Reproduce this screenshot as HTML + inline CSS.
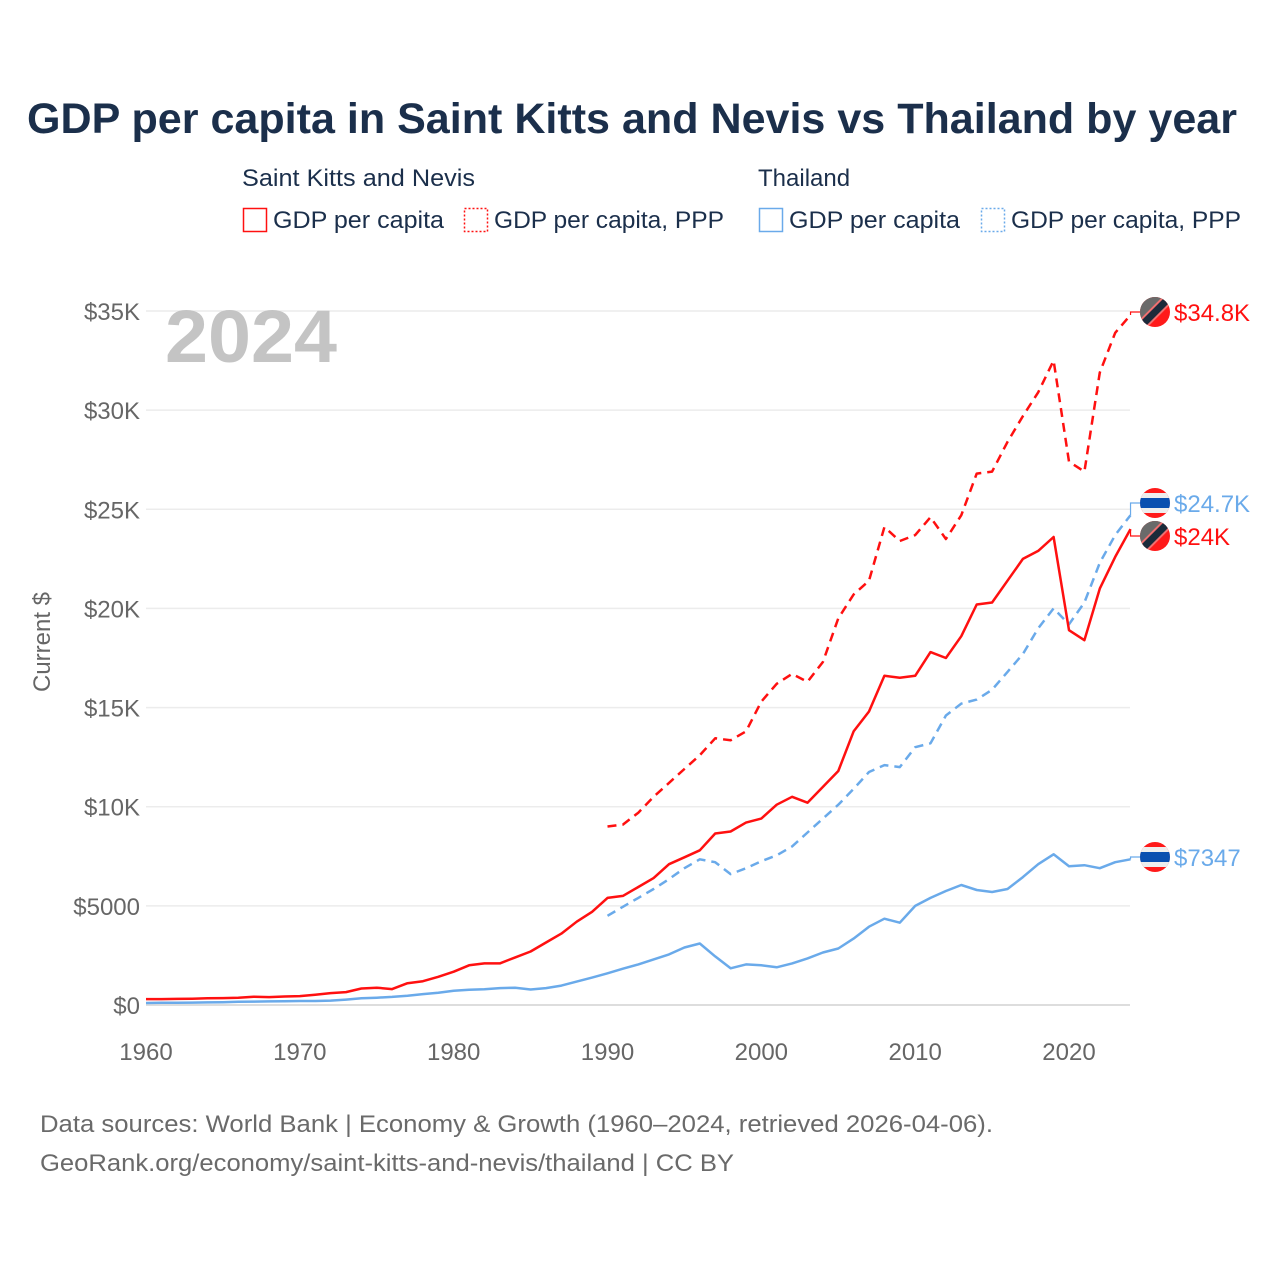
<!DOCTYPE html>
<html><head><meta charset="utf-8">
<style>
body{margin:0;background:#fff;}
#wrap{position:relative;width:1280px;height:1280px;overflow:hidden;font-family:"Liberation Sans",sans-serif;}
svg text{font-family:"Liberation Sans",sans-serif;}
</style></head>
<body>
<div id="wrap">
<svg id="chart" width="1280" height="1280">
<text x="27" y="133" font-size="43" font-weight="bold" fill="#1b2f4b" textLength="1210" lengthAdjust="spacingAndGlyphs">GDP per capita in Saint Kitts and Nevis vs Thailand by year</text>
<g font-size="24" fill="#1b2f4b">
<text x="242" y="186" textLength="233" lengthAdjust="spacingAndGlyphs">Saint Kitts and Nevis</text>
<text x="758" y="186">Thailand</text>
<g><rect x="243.5" y="208.5" width="23" height="23" fill="none" stroke="#ff1010" stroke-width="1.5"/><text x="273" y="228" textLength="171" lengthAdjust="spacingAndGlyphs">GDP per capita</text></g>
<g><rect x="464.5" y="208.5" width="23" height="23" fill="none" stroke="#ff1010" stroke-width="1.5" stroke-dasharray="2,2"/><text x="494" y="228" textLength="230" lengthAdjust="spacingAndGlyphs">GDP per capita, PPP</text></g>
<g><rect x="759.5" y="208.5" width="23" height="23" fill="none" stroke="#6aaaea" stroke-width="1.5"/><text x="789" y="228" textLength="171" lengthAdjust="spacingAndGlyphs">GDP per capita</text></g>
<g><rect x="981.5" y="208.5" width="23" height="23" fill="none" stroke="#6aaaea" stroke-width="1.5" stroke-dasharray="2,2"/><text x="1011" y="228" textLength="230" lengthAdjust="spacingAndGlyphs">GDP per capita, PPP</text></g>
</g>
<g id="grid"></g>
<g id="yticks"></g>
<g id="xticks"></g>
<text x="165" y="362" font-size="74" font-weight="bold" fill="#c4c4c4" textLength="172" lengthAdjust="spacingAndGlyphs">2024</text>
<text transform="translate(50,642) rotate(-90)" text-anchor="middle" font-size="24" fill="#666">Current $</text>
<g id="series"></g>
<g id="labels"></g>
<text x="40" y="1132" font-size="24" fill="#6a6a6a" textLength="953" lengthAdjust="spacingAndGlyphs">Data sources: World Bank | Economy &amp; Growth (1960–2024, retrieved 2026-04-06).</text>
<text x="40" y="1171" font-size="24" fill="#6a6a6a" textLength="694" lengthAdjust="spacingAndGlyphs">GeoRank.org/economy/saint-kitts-and-nevis/thailand | CC BY</text>
</svg>
</div>
<script>
const yTickValues=[0,5000,10000,15000,20000,25000,30000,35000];
const yTickLabels=["$0","$5000","$10K","$15K","$20K","$25K","$30K","$35K"];
const xTickYears=[1960,1970,1980,1990,2000,2010,2020];
const yearsAll=[];for(let y=1960;y<=2024;y++)yearsAll.push(y);
const yearsPPP=[];for(let y=1990;y<=2024;y++)yearsPPP.push(y);
const sknGdp=[300,300,310,320,340,350,370,420,400,430,450,520,600,650,830,870,800,1100,1200,1420,1680,2000,2100,2100,2400,2700,3150,3600,4200,4700,5400,5500,5950,6400,7100,7450,7800,8650,8750,9200,9400,10100,10500,10200,11000,11800,13800,14800,16600,16500,16600,17800,17500,18600,20200,20300,21400,22500,22900,23600,18900,18400,21000,22600,24000];
const sknPpp=[9000,9100,9700,10500,11200,11900,12600,13450,13350,13800,15300,16200,16700,16300,17300,19500,20700,21400,24100,23400,23700,24600,23500,24700,26800,26900,28400,29700,30900,32500,27400,26900,31900,33900,34800];
const thaGdp=[100,110,115,120,130,140,160,170,180,190,200,200,220,270,340,370,410,470,550,620,720,770,790,850,870,780,850,980,1180,1380,1600,1830,2050,2300,2550,2900,3100,2450,1850,2050,2000,1900,2100,2350,2650,2850,3350,3950,4350,4150,5000,5400,5750,6050,5800,5700,5850,6450,7100,7600,7000,7050,6900,7200,7347];
const thaPpp=[4500,4950,5400,5850,6350,6900,7350,7200,6600,6900,7250,7550,8000,8700,9400,10100,10900,11750,12100,12000,13000,13200,14600,15200,15400,15900,16800,17700,19000,20000,19200,20300,22300,23700,24700];
const endLabels=["$34.8K","$24.7K","$24K","$7347"];

const NS="http://www.w3.org/2000/svg";
const X=yr=>146+(yr-1960)*(1069-146)/60;
const Y=v=>1005-v*(1005-311)/35000;
function mk(tag,attrs,parent){const e=document.createElementNS(NS,tag);for(const k in attrs)e.setAttribute(k,attrs[k]);parent.appendChild(e);return e;}
const grid=document.getElementById('grid'),yt=document.getElementById('yticks'),xt=document.getElementById('xticks');
yTickValues.forEach((v,i)=>{
 const l=mk('line',{x1:146,x2:1130,y1:Y(v),y2:Y(v),stroke:v===0?'#dddddd':'#ececec','stroke-width':v===0?2:1.5},grid);
 
 
 const t=mk('text',{x:140,y:Y(v)+9,'text-anchor':'end','font-size':24,fill:'#666'},yt);
 t.textContent=yTickLabels[i];
 
 
});
xTickYears.forEach(yr=>{
 const t=mk('text',{x:X(yr),y:1060,'text-anchor':'middle','font-size':24,fill:'#666'},xt);
 t.textContent=yr;
 
 
});
const ser=document.getElementById('series');
function line(years,vals,color,dash,name){
 const d=vals.map((v,i)=>(i?'L':'M')+X(years[i]).toFixed(1)+','+Y(v).toFixed(1)).join(' ');
 const p=mk('path',{d:d,fill:'none',stroke:color,'stroke-width':2.5,'stroke-linejoin':'round'},ser);
 if(dash)p.setAttribute('stroke-dasharray','9,6');
 
 
}
line(yearsAll,thaGdp,'#6aaaea',false,'line-thailand-gdp');
line(yearsPPP,thaPpp,'#6aaaea',true,'line-thailand-ppp');
line(yearsAll,sknGdp,'#ff1010',false,'line-skn-gdp');
line(yearsPPP,sknPpp,'#ff1010',true,'line-skn-ppp');

const lab=document.getElementById('labels');
const ends=[
 {v:sknPpp[sknPpp.length-1],cy:312,c:'#ff1010',flag:'skn'},
 {v:thaPpp[thaPpp.length-1],cy:503,c:'#6aaaea',flag:'tha'},
 {v:sknGdp[sknGdp.length-1],cy:536,c:'#ff1010',flag:'skn'},
 {v:thaGdp[thaGdp.length-1],cy:857,c:'#6aaaea',flag:'tha'}];
let clipId=0;
ends.forEach((e,i)=>{
 const g=mk('g',{},lab);
 
 
 const x0=X(2024),y0=Y(e.v);
 mk('path',{d:`M${x0},${y0} V${e.cy} H1140`,fill:'none',stroke:e.c,'stroke-width':1.2},g);
 const id='c'+(clipId++);
 const cp=mk('clipPath',{id:id},g);mk('circle',{cx:1155,cy:e.cy,r:15},cp);
 const fg=mk('g',{'clip-path':`url(#${id})`},g);
 
 
 if(e.flag==='tha'){
  mk('rect',{x:1140,y:e.cy-15,width:30,height:30,fill:'#ff1a1a'},fg);
  mk('rect',{x:1140,y:e.cy-10,width:30,height:20,fill:'#eeeeee'},fg);
  mk('rect',{x:1140,y:e.cy-5,width:30,height:10,fill:'#0a4fb0'},fg);
 }else{
  mk('rect',{x:1140,y:e.cy-15,width:30,height:30,fill:'#ff1a1a'},fg);
  mk('polygon',{points:`1140,${e.cy-15} 1170,${e.cy-15} 1140,${e.cy+15}`,fill:'#6a6a6a'},fg);
  mk('line',{x1:1140,y1:e.cy+15,x2:1170,y2:e.cy-15,stroke:'#f07070','stroke-width':11},fg);
  mk('line',{x1:1140,y1:e.cy+15,x2:1170,y2:e.cy-15,stroke:'#1b2a3a','stroke-width':7},fg);
 }
 const t=mk('text',{x:1174,y:e.cy+9,'font-size':24,fill:e.c},g);
 t.textContent=endLabels[i];
 
 
});
</script>
</body></html>
